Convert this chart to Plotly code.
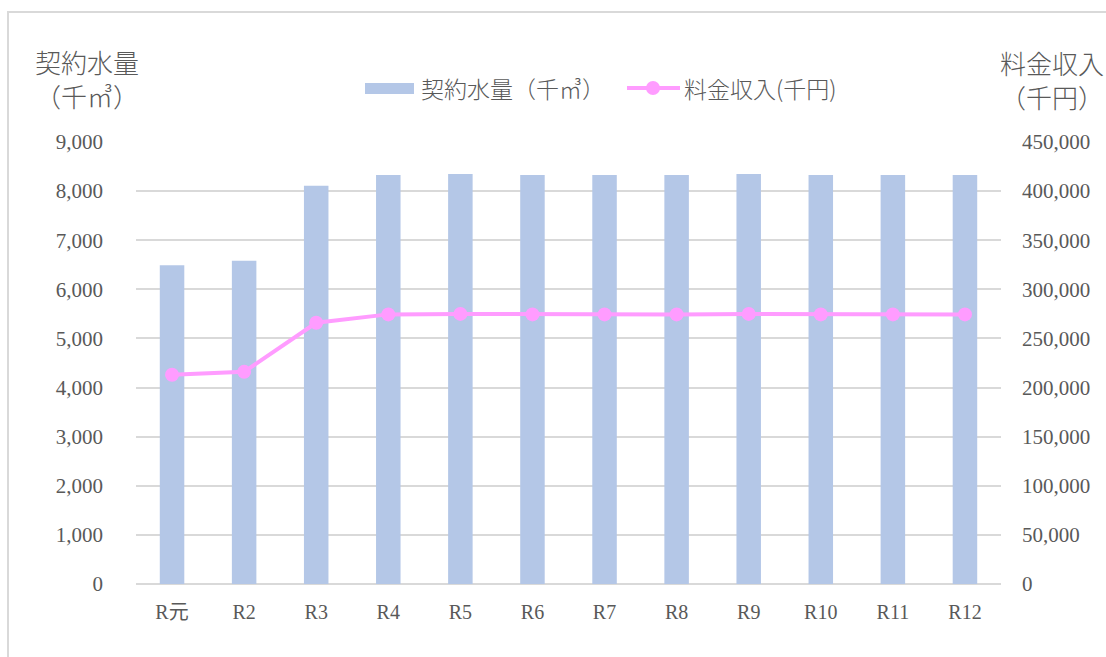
import plotly.graph_objects as go

categories = ["R元", "R2", "R3", "R4", "R5", "R6", "R7", "R8", "R9", "R10", "R11", "R12"]
contract_volume = [6490, 6580, 8110, 8330, 8350, 8330, 8330, 8330, 8350, 8330, 8330, 8330]
revenue = [213000, 216000, 266000, 274500, 275000, 274500, 274500, 274500, 275000, 274500, 274500, 274500]

left_ticks = list(range(0, 9001, 1000))
right_ticks = list(range(0, 450001, 50000))

TXT = "#595959"
BAR_C = "#b4c7e7"
LINE_C = "#ff9cff"
NUMFONT = "Liberation Serif, Noto Sans CJK JP"
JPFONT = "Noto Sans CJK JP"

fig = go.Figure()
fig.add_trace(go.Bar(x=categories, y=contract_volume, name="契約水量（千㎥）",
                     marker=dict(color=BAR_C, line=dict(width=0)), width=0.34, yaxis="y",
                     showlegend=False))
fig.add_trace(go.Scatter(x=categories, y=revenue, name="料金収入(千円)", mode="lines+markers",
                         line=dict(color=LINE_C, width=4), marker=dict(color=LINE_C, size=14),
                         yaxis="y2", showlegend=False))

L, R, T, B = 136, 105, 142, 73
W, H = 1106, 657
PW, PH = W - L - R, H - T - B


def px(x):
    return (x - L) / PW


def py(y):
    return (H - B - y) / PH


fig.update_layout(
    width=W, height=H,
    margin=dict(l=L, r=R, t=T, b=B),
    plot_bgcolor="white", paper_bgcolor="white",
    showlegend=False,
    xaxis=dict(type="category", range=[-0.5, 11.5], automargin=False,
               tickfont=dict(family=NUMFONT, size=20, color=TXT),
               showgrid=False, showline=False, ticks="", ticklabelstandoff=14),
    yaxis=dict(range=[0, 9000], tickvals=left_ticks, ticktext=[f"{v:,}" for v in left_ticks],
               automargin=False,
               tickfont=dict(family=NUMFONT, size=21, color=TXT), showgrid=True, gridcolor="#d9d9d9",
               gridwidth=2, zeroline=True, zerolinecolor="#d9d9d9", zerolinewidth=2, ticks="",
               ticklabelstandoff=32),
    yaxis2=dict(range=[0, 450000], tickvals=right_ticks, ticktext=[f"{v:,}" for v in right_ticks],
                automargin=False,
                tickfont=dict(family=NUMFONT, size=21, color=TXT), overlaying="y", side="right",
                showgrid=False, zeroline=False, ticks="", ticklabelstandoff=20),
    font=dict(family=JPFONT, color=TXT),
)


def label(text, x, y, size, anchor="center"):
    fig.add_annotation(text=text, xref="paper", yref="paper", x=px(x), y=py(y),
                       xanchor=anchor, yanchor="middle", showarrow=False,
                       font=dict(family=JPFONT, size=size, color=TXT, weight=300))


# axis titles
label("契約水量", 87, 61, 26)
label("（千㎥）", 87, 96, 26)
label("料金収入", 1052, 63, 26)
label("（千円）", 1052, 97, 26)

# legend (drawn manually to match the wide swatches)
fig.add_shape(type="rect", xref="paper", yref="paper", x0=px(365), x1=px(414), y0=py(94), y1=py(83),
              fillcolor=BAR_C, line=dict(width=0))
label("契約水量（千㎥）", 419, 88, 23, "left")
fig.add_shape(type="line", xref="paper", yref="paper", x0=px(627), x1=px(680), y0=py(88), y1=py(88),
              line=dict(color=LINE_C, width=4))
fig.add_shape(type="circle", xref="paper", yref="paper", x0=px(646), x1=px(660), y0=py(95), y1=py(81),
              fillcolor=LINE_C, line=dict(width=0))
label("料金収入(千円)", 682, 88, 23, "left")

# outer chart border
fig.add_shape(type="rect", xref="paper", yref="paper",
              x0=px(8), x1=1.5, y0=-0.5, y1=py(12),
              line=dict(color="#d9d9d9", width=2), layer="below")

fig.write_html("out.html")
